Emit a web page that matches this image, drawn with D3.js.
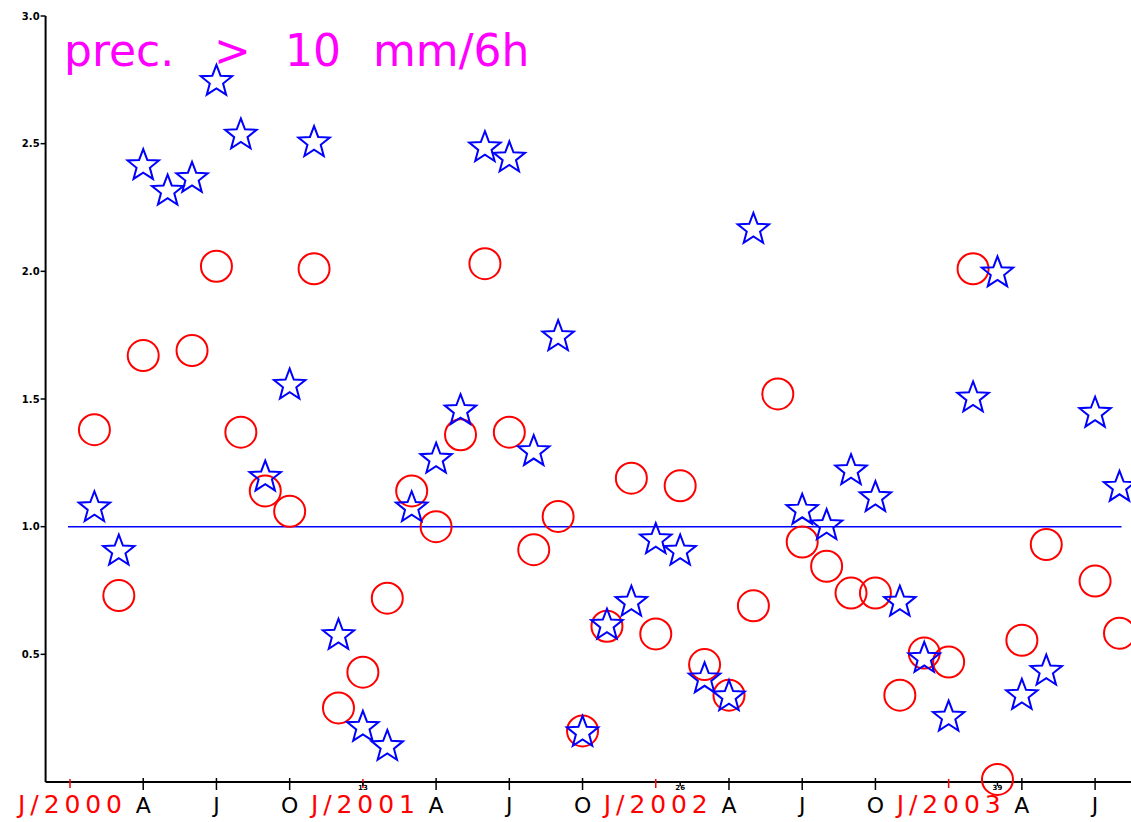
<!DOCTYPE html>
<html>
<head>
<meta charset="utf-8">
<script src="https://cdn.jsdelivr.net/npm/d3@7"></script>
<style>
  body { margin: 0; background: #fff; }
  svg { display: block; font-family: "DejaVu Sans", "Liberation Sans", Arial, sans-serif; }
</style>
</head>
<body>
<svg id="chart" width="1131" height="822"></svg>
<script>
// month index: 1 = Jan 2000 ... 44 = Aug 2003
const months = d3.range(1, 45);

// red circles
const circleValues = [
  null, 1.38, 0.73, 1.67, null, 1.69, 2.02, 1.37, 1.14, 1.06, 2.01, 0.29,
  0.43, 0.72, 1.14, 1.00, 1.36, 2.03, 1.37, 0.91, 1.04, 0.20, 0.61, 1.19,
  0.58, 1.16, 0.46, 0.34, 0.69, 1.52, 0.94, 0.845, 0.74, 0.74, 0.34, 0.505,
  0.47, 2.01, 0.01, 0.555, 0.93, null, 0.787, 0.583
];

// blue stars
const starValues = [
  null, 1.08, 0.91, 2.42, 2.32, 2.37, 2.75, 2.54, 1.20, 1.56, 2.51, 0.58,
  0.22, 0.145, 1.08, 1.27, 1.46, 2.49, 2.45, 1.30, 1.75, 0.20, 0.62, 0.71,
  0.955, 0.91, 0.41, 0.34, 2.17, null, 1.07, 1.01, 1.225, 1.12, 0.71, 0.49,
  0.26, 1.51, 2.00, 0.345, 0.44, null, 1.45, 1.16
];

const yTicks = [0.5, 1.0, 1.5, 2.0, 2.5, 3.0];
const quarterTicks = [
  { i: 4, label: 'A' }, { i: 7, label: 'J' }, { i: 10, label: 'O' },
  { i: 16, label: 'A' }, { i: 19, label: 'J' }, { i: 22, label: 'O' },
  { i: 28, label: 'A' }, { i: 31, label: 'J' }, { i: 34, label: 'O' },
  { i: 40, label: 'A' }, { i: 43, label: 'J' }
];
const yearTicks = [
  { i: 1, label: 'J/2000' }, { i: 13, label: 'J/2001' },
  { i: 25, label: 'J/2002' }, { i: 37, label: 'J/2003' }
];
const countTicks = [13, 26, 39];
const refValue = 1.0;
const titleWords = ['prec.', '>', '10', 'mm/6h'];

const svg = d3.select('#chart');

const x = d3.scaleLinear()
    .domain([1, 44])
    .range([70, 1119.5]);

const y = d3.scaleLinear()
    .domain([0, 3])
    .range([782, 16]);

const x0 = x(0);
const y0 = y(0);

// axes lines
svg.append('line')
    .attr('x1', x0).attr('x2', x0)
    .attr('y1', y(3)).attr('y2', y0)
    .attr('stroke', '#000').attr('stroke-width', 2);

svg.append('line')
    .attr('x1', x0).attr('x2', 1131)
    .attr('y1', y0).attr('y2', y0)
    .attr('stroke', '#000').attr('stroke-width', 2);

// y ticks
const yt = svg.append('g').selectAll('g')
    .data(yTicks)
    .join('g')
    .attr('transform', d => `translate(${x0},${y(d)})`);

yt.append('line')
    .attr('x1', -5).attr('x2', 0)
    .attr('stroke', '#000').attr('stroke-width', 1.5);

yt.append('text')
    .attr('x', -6)
    .attr('dy', '0.35em')
    .attr('text-anchor', 'end')
    .attr('font-size', 10)
    .attr('font-weight', 'bold')
    .attr('fill', '#000')
    .text(d => d3.format('.1f')(d));

// quarter ticks
const qt = svg.append('g').selectAll('g')
    .data(quarterTicks)
    .join('g')
    .attr('transform', d => `translate(${x(d.i)},${y0})`);

qt.append('line')
    .attr('y1', -4).attr('y2', 8)
    .attr('stroke', '#000').attr('stroke-width', 1.5);

qt.append('text')
    .attr('y', 31)
    .attr('text-anchor', 'middle')
    .attr('font-size', 22)
    .attr('fill', '#000')
    .text(d => d.label);

// year ticks
const yrt = svg.append('g').selectAll('g')
    .data(yearTicks)
    .join('g')
    .attr('transform', d => `translate(${x(d.i)},${y0})`);

yrt.append('line')
    .attr('y1', -3).attr('y2', 6)
    .attr('stroke', '#f00').attr('stroke-width', 1.5);

yrt.append('text')
    .attr('y', 31)
    .attr('text-anchor', 'middle')
    .attr('font-size', 25)
    .attr('fill', '#f00')
    .attr('textLength', 104)
    .attr('lengthAdjust', 'spacing')
    .text(d => d.label);

// small count ticks
const ct = svg.append('g').selectAll('g')
    .data(countTicks)
    .join('g')
    .attr('transform', d => `translate(${x(d)},${y0})`);

ct.append('line')
    .attr('y1', 0).attr('y2', 4)
    .attr('stroke', '#000').attr('stroke-width', 1.5);

ct.append('text')
    .attr('y', 8)
    .attr('text-anchor', 'middle')
    .attr('font-size', 7)
    .attr('font-weight', 'bold')
    .attr('fill', '#000')
    .text(d => d);

// reference line at 1.0
svg.append('line')
    .attr('x1', x(1) - 2).attr('x2', x(44) + 2)
    .attr('y1', y(refValue)).attr('y2', y(refValue))
    .attr('stroke', '#00f').attr('stroke-width', 1.5);

// title, word by word
const wordX = [64, 214, 285, 373];
svg.append('text')
    .attr('y', 66)
    .attr('font-size', 44)
    .attr('fill', '#f0f')
    .selectAll('tspan')
    .data(titleWords)
    .join('tspan')
    .attr('x', (d, k) => wordX[k])
    .text(d => d);

// markers
const circleData = months.map((m, k) => ({ m, v: circleValues[k] })).filter(d => d.v !== null);
const starData = months.map((m, k) => ({ m, v: starValues[k] })).filter(d => d.v !== null);

svg.append('g').selectAll('circle')
    .data(circleData)
    .join('circle')
    .attr('cx', d => x(d.m))
    .attr('cy', d => y(d.v))
    .attr('r', 15.5)
    .attr('fill', 'none')
    .attr('stroke', '#f00')
    .attr('stroke-width', 2);

// 5 point star outline
const starPoints = d3.range(10).map(k => [k * Math.PI / 5, k % 2 ? 7 : 16.5]);
const starPath = d3.lineRadial().curve(d3.curveLinearClosed)(starPoints);

svg.append('g').selectAll('path')
    .data(starData)
    .join('path')
    .attr('transform', d => `translate(${x(d.m)},${y(d.v) + 1.5})`)
    .attr('d', starPath)
    .attr('fill', 'none')
    .attr('stroke', '#00f')
    .attr('stroke-width', 2)
    .attr('stroke-linejoin', 'miter');
</script>
</body>
</html>
